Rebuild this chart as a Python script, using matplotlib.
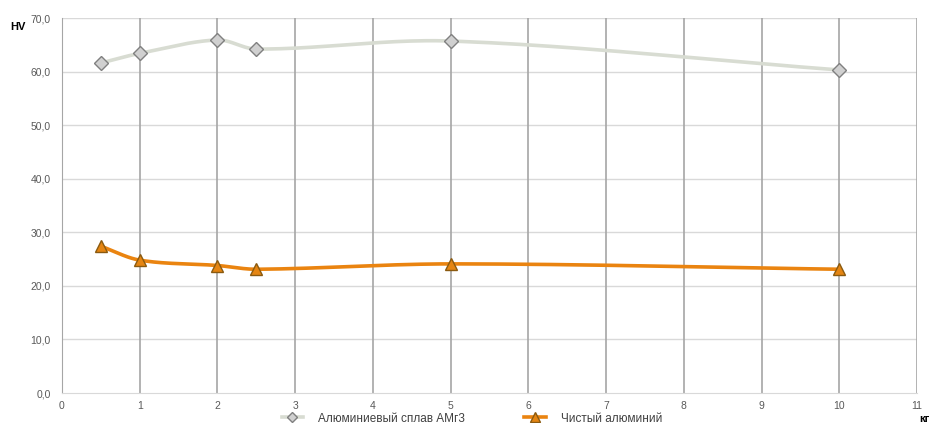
import numpy as np
import matplotlib
matplotlib.use("Agg")
import matplotlib.pyplot as plt
from matplotlib.lines import Line2D

plt.rcParams['font.family'] = ['Liberation Sans', 'DejaVu Sans']

loads = [0.5, 1, 2, 2.5, 5, 10]
amg3 = [61.6, 63.4, 65.9, 64.2, 65.7, 60.3]
pure_al = [27.4, 24.8, 23.8, 23.1, 24.1, 23.1]
x_ticks = list(range(0, 12))
y_ticks = [0, 10, 20, 30, 40, 50, 60, 70]
series_names = ["Алюминиевый сплав АМг3", "Чистый алюминий"]


def smooth(xs, ys, n=40):
    xs = np.asarray(xs, float)
    ys = np.asarray(ys, float)
    k = len(xs)
    m = np.zeros(k)
    for i in range(k):
        if i == 0:
            m[i] = (ys[1] - ys[0]) / (xs[1] - xs[0])
        elif i == k - 1:
            m[i] = (ys[-1] - ys[-2]) / (xs[-1] - xs[-2])
        else:
            m[i] = (ys[i + 1] - ys[i - 1]) / (xs[i + 1] - xs[i - 1])
    X, Y = [], []
    for i in range(k - 1):
        h = xs[i + 1] - xs[i]
        t = np.linspace(0, 1, n)
        h00 = 2 * t ** 3 - 3 * t ** 2 + 1
        h10 = t ** 3 - 2 * t ** 2 + t
        h01 = -2 * t ** 3 + 3 * t ** 2
        h11 = t ** 3 - t ** 2
        yy = h00 * ys[i] + h10 * h * m[i] + h01 * ys[i + 1] + h11 * h * m[i + 1]
        xx = xs[i] + t * h
        if i > 0:
            xx, yy = xx[1:], yy[1:]
        X.append(xx)
        Y.append(yy)
    return np.concatenate(X), np.concatenate(Y)


fig = plt.figure(figsize=(9.31, 4.23), dpi=100)
ax = fig.add_axes([62 / 931, 1 - 393 / 423, (917 - 62) / 931, (393 - 18) / 423])

ax.set_xlim(0, 11)
ax.set_ylim(0, 70)
ax.set_xticks(x_ticks)
ax.set_yticks(y_ticks)
ax.set_xticklabels([str(v) for v in x_ticks])
ax.set_yticklabels([f"{v:.1f}".replace('.', ',') for v in y_ticks])

for v in y_ticks[1:]:
    ax.axhline(v, color='#d9d9d9', lw=1.0, zorder=1)
for v in x_ticks[1:]:
    ax.axvline(v, color='#a6a6a6', lw=1.2, zorder=1)

for s in ['top', 'right']:
    ax.spines[s].set_visible(False)
ax.spines['left'].set_color('#a6a6a6')
ax.spines['bottom'].set_color('#d9d9d9')
ax.tick_params(axis='both', length=0, labelsize=7.5, colors='#595959')
ax.tick_params(axis='y', pad=8)
ax.tick_params(axis='x', pad=6)

sx, sy = smooth(loads, amg3)
ax.plot(sx, sy, color='#d8dcd2', lw=2.6, zorder=3, solid_capstyle='round')
ax.plot(loads, amg3, ls='none', marker='D', ms=7, mfc='#d0d0d0', mec='#808080', mew=1.0, zorder=4)

sx2, sy2 = smooth(loads, pure_al)
ax.plot(sx2, sy2, color='#ea8410', lw=2.6, zorder=3, solid_capstyle='round')
ax.plot(loads, pure_al, ls='none', marker='^', ms=9, mfc='#e58512', mec='#8a5a10', mew=1.0, zorder=4)

fig.text(10 / 931, 1 - 27 / 423, 'HV', fontsize=8, fontweight='bold', va='center', ha='left')
fig.text(919 / 931, 1 - 419 / 423, 'кг', fontsize=8, fontweight='bold', va='center', ha='left')

handles = [
    Line2D([], [], color='#d8dcd2', lw=2.6, marker='D', ms=5, mfc='#d0d0d0', mec='#808080'),
    Line2D([], [], color='#ea8410', lw=2.6, marker='^', ms=7, mfc='#e58512', mec='#8a5a10'),
]
fig.legend(handles, series_names, loc='center', bbox_to_anchor=(472 / 931, 1 - 418.5 / 423),
           ncol=2, frameon=False, fontsize=8.5, handlelength=1.8, columnspacing=5.0,
           labelcolor='#404040', handletextpad=1.3, borderpad=0)

fig.savefig('out.png', dpi=100)
